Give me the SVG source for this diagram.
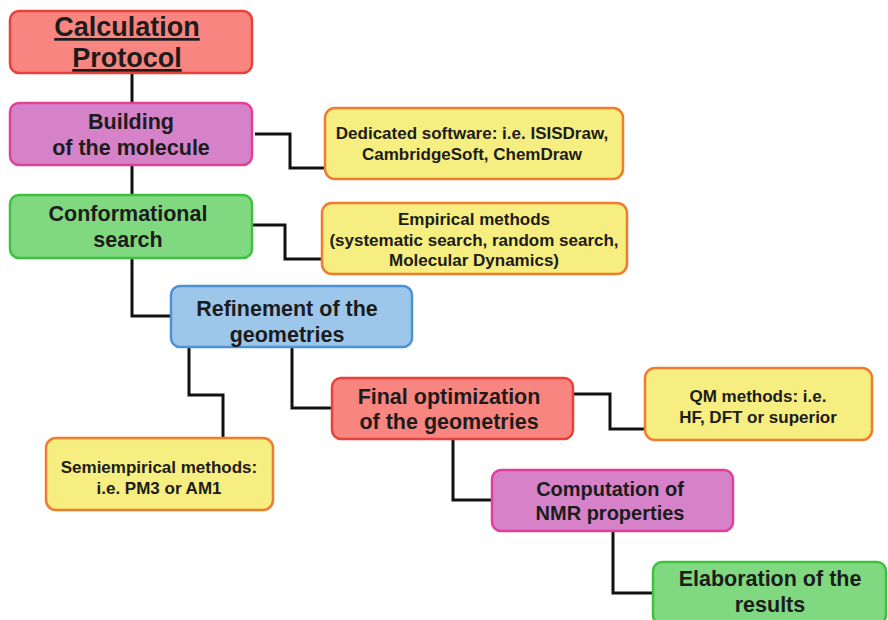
<svg xmlns="http://www.w3.org/2000/svg" width="888" height="620" viewBox="0 0 888 620">
<style>
.box{stroke-width:2.5}
.red{fill:#f98580;stroke:#e8403a}
.mag{fill:#d582c8;stroke:#e0409c}
.grn{fill:#80d880;stroke:#3ec23e}
.blu{fill:#9cc7ea;stroke:#4a92d4}
.yel{fill:#f6ee80;stroke:#f07c2e}
text{font-family:"Liberation Sans",Arial,sans-serif;font-weight:bold;fill:#1c1c1c;text-anchor:middle}
.t20{font-size:21.5px}
.t16{font-size:17px}
.conn path{fill:none;stroke:#111;stroke-width:3}
</style>
<rect width="888" height="620" fill="#fff"/>
<g class="conn">
<path d="M132 73V104"/>
<path d="M132 165V195"/>
<path d="M255 134H290V168H325"/>
<path d="M252 225H285V259H322"/>
<path d="M132 258V316H171"/>
<path d="M189 347V395H223V438"/>
<path d="M292 347V408H332"/>
<path d="M573 394H610V429H645"/>
<path d="M453 439V500H492"/>
<path d="M613 531V593H653"/>
</g>
<g id="calc">
<rect class="box red" x="10" y="11" width="242" height="62" rx="9"/>
<text x="127" y="36" style="font-size:27px;text-decoration:underline">Calculation</text>
<text x="127" y="67" style="font-size:27px;text-decoration:underline">Protocol</text>
</g>
<g id="building">
<rect class="box mag" x="10" y="103" width="242" height="62" rx="9"/>
<text class="t20" x="131" y="129">Building</text>
<text class="t20" x="131" y="155">of the molecule</text>
</g>
<g id="dedicated">
<rect class="box yel" x="325" y="108" width="298" height="71" rx="10"/>
<text class="t16" x="472" y="139">Dedicated software: i.e. ISISDraw,</text>
<text class="t16" x="472" y="160">CambridgeSoft, ChemDraw</text>
</g>
<g id="conformational">
<rect class="box grn" x="10" y="195" width="242" height="63" rx="9"/>
<text class="t20" x="128" y="221">Conformational</text>
<text class="t20" x="128" y="247">search</text>
</g>
<g id="empirical">
<rect class="box yel" x="322" y="203" width="305" height="71" rx="10"/>
<text class="t16" x="474" y="225">Empirical methods</text>
<text class="t16" x="474" y="246">(systematic search, random search,</text>
<text class="t16" x="474" y="266">Molecular Dynamics)</text>
</g>
<g id="refinement">
<rect class="box blu" x="171" y="286" width="241" height="61" rx="9"/>
<text class="t20" x="287" y="316">Refinement of the</text>
<text class="t20" x="287" y="342">geometries</text>
</g>
<g id="final">
<rect class="box red" x="332" y="378" width="241" height="61" rx="9"/>
<text class="t20" x="449" y="404">Final optimization</text>
<text class="t20" x="449" y="429">of the geometries</text>
</g>
<g id="qm">
<rect class="box yel" x="645" y="368" width="227" height="72" rx="10"/>
<text class="t16" x="758" y="402">QM methods: i.e.</text>
<text class="t16" x="758" y="423">HF, DFT or superior</text>
</g>
<g id="semiempirical">
<rect class="box yel" x="46" y="438" width="227" height="72" rx="10"/>
<text class="t16" x="159" y="473">Semiempirical methods:</text>
<text class="t16" x="159" y="494">i.e. PM3 or AM1</text>
</g>
<g id="computation">
<rect class="box mag" x="492" y="470" width="241" height="61" rx="9"/>
<text x="610" y="496" style="font-size:20px">Computation of</text>
<text x="610" y="520" style="font-size:20px">NMR properties</text>
</g>
<g id="elaboration">
<rect class="box grn" x="653" y="562" width="233" height="62" rx="9"/>
<text class="t20" x="770" y="586">Elaboration of the</text>
<text class="t20" x="770" y="612">results</text>
</g>
</svg>
